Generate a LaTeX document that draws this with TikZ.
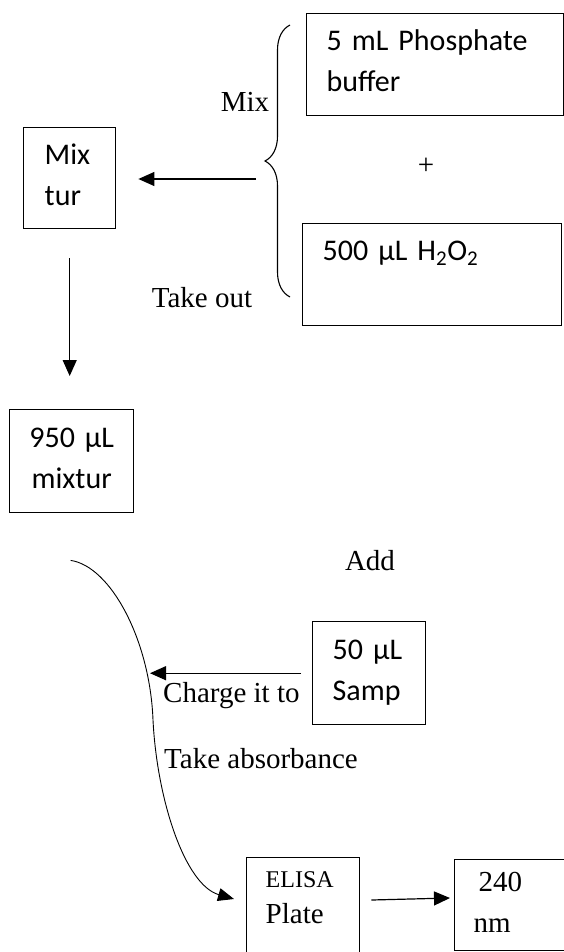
\documentclass[tikz,border=0pt]{standalone}
\usepackage{fontspec}
\setmainfont{Liberation Serif}
\newfontfamily\boxfont{Carlito}
\usetikzlibrary{arrows.meta, positioning, calc, decorations.pathreplacing}
\newcommand\bstrut{\rule[-14pt]{0pt}{41pt}}

\begin{document}
\begin{tikzpicture}[
    x=1pt, y=-1pt,
    box/.style={rectangle, draw=black, line width=1.4pt, inner sep=0pt, anchor=north west, align=left, font=\boxfont\fontsize{30}{41}\selectfont},
    serifbox/.style={box, font=\fontsize{29}{41}\selectfont},
    lbl/.style={font=\fontsize{29}{35}\selectfont, inner sep=0pt, anchor=base},
    arrow/.style={-{Triangle[length=16pt, width=14pt]}, line width=1.2pt},
    bendarrow/.style={-{Triangle[length=16pt, width=13pt]}, line width=0.9pt}
]
\useasboundingbox (0,0) rectangle (564,952);
\clip (0,0) rectangle (564,952);

% Boxes
\node[box, minimum width=257pt, minimum height=102pt, text width=217pt] (buffer) at (306,13) {\bstrut 5 mL Phosphate\\\bstrut buffer};
\node[box, minimum width=259pt, minimum height=102pt, text width=219pt] (peroxide) at (302,223) {\bstrut 500 µL H\textsubscript{2}O\textsubscript{2}\\\bstrut};
\node[box, minimum width=92pt, minimum height=101pt, text width=50pt] (mixtur) at (23,127) {\bstrut Mix\\\bstrut tur};
\node[box, minimum width=124pt, minimum height=103pt, text width=90pt, align=center] (vol) at (9,409) {\bstrut 950 µL\\\bstrut mixtur};
\node[box, minimum width=113pt, minimum height=103pt, text width=73pt] (sample) at (312,621) {\bstrut 50 µL\\\bstrut Samp};
\node[serifbox, minimum width=113pt, minimum height=127pt, text width=75pt] (plate) at (246,857) {{\fontsize{24}{36}\selectfont\rule[-12pt]{0pt}{36pt}ELISA}\\[-5pt]\bstrut Plate\\\bstrut};
\node[serifbox, minimum width=130pt, minimum height=91pt, text width=92pt] (nm) at (454,859) {\hspace*{5pt}\bstrut 240\\\bstrut nm};

% Labels
\node[lbl] (mixlbl) at (245,112) {Mix};
\node[lbl] (plus) at (426,175) {+};
\node[lbl] (takeout) at (202,307) {Take out};
\node[lbl] (add) at (370,570) {Add};
\node[lbl, anchor=base west] (charge) at (163,702) {Charge it to};
\node[lbl, anchor=base west] (absorb) at (164,768) {Take absorbance};

% Brace
\coordinate (bracetop) at (290,25);
\coordinate (bracebot) at (290,297);
\draw[line width=1.1pt, decorate, decoration={brace, amplitude=25pt}] (bracebot) -- (bracetop);

% Arrows
\coordinate (mixfrom) at (256,179);
\draw[arrow, shorten >=22pt] (mixfrom) -- (mixfrom -| mixtur.east);
\draw[arrow, shorten <=29pt, shorten >=33pt] (mixtur.south) -- (mixtur.south |- vol.north);

\coordinate (curvestart) at ($(vol.south)+(-1,47)$);
\coordinate (curvemid) at (153,720);
\coordinate (curveend) at ($(plate.north west)+(-12,42)$);
\draw[bendarrow] (curvestart) .. controls +(40,6) and +(-3,-80) .. (curvemid) .. controls +(4,80) and +(-49,-14) .. (curveend);

\coordinate (chargept) at (150,672);
\draw[arrow, shorten <=11pt] (sample.west) -- (sample.west -| chargept);
\draw[arrow] ($(plate.north east)+(11,43)$) -- ($(nm.north west)+(-4,39)$);

\end{tikzpicture}
\end{document}
